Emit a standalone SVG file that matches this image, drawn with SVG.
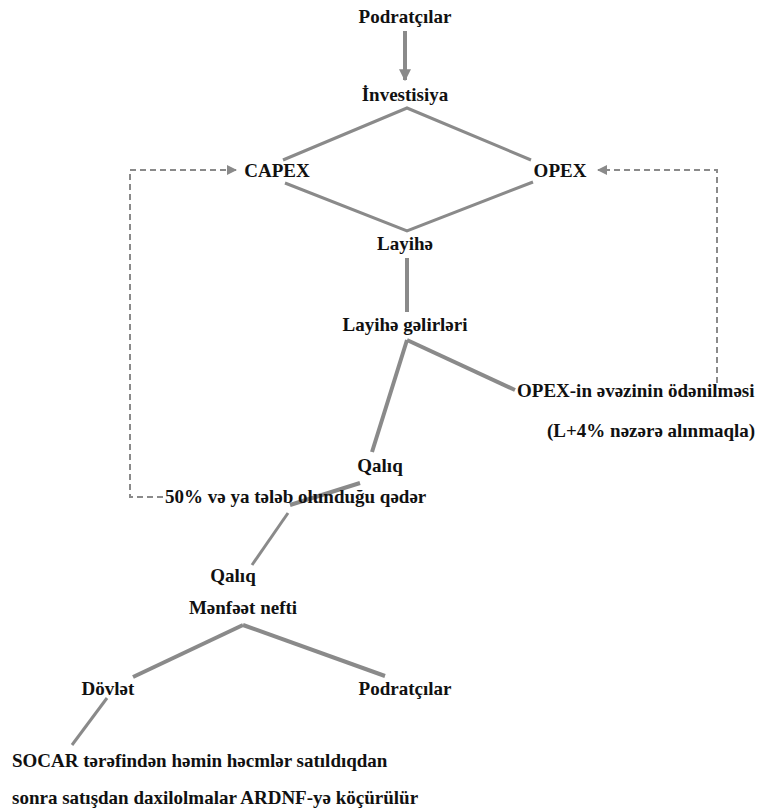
<svg xmlns="http://www.w3.org/2000/svg" width="764" height="812" viewBox="0 0 764 812">
<style>
text{font-family:"Liberation Serif","DejaVu Serif Condensed","DejaVu Serif","Times New Roman",serif;font-weight:bold;font-size:19px;fill:#111}
.m{text-anchor:middle}
.l{stroke:#8a8a8a;stroke-width:3;fill:none}
.t{stroke:#8a8a8a;stroke-width:4;fill:none}
.d{stroke:#8a8a8a;stroke-width:2;fill:none;stroke-dasharray:6 4}
</style>
<defs>
<marker id="ah" viewBox="0 0 10 10" refX="9" refY="5" markerWidth="3" markerHeight="3" orient="auto"><path d="M0,0 L10,5 L0,10 z" fill="#8a8a8a"/></marker>
<marker id="ad" viewBox="0 0 10 10" refX="9" refY="5" markerWidth="5" markerHeight="5" orient="auto"><path d="M0,0 L10,5 L0,10 z" fill="#8a8a8a"/></marker>
</defs>
<g id="connectors">
<line class="t" x1="405" y1="31" x2="405" y2="80" marker-end="url(#ah)"/>
<polyline class="l" points="283,160 407,108 531,160"/>
<polyline class="l" points="285,183 407,231 533,182"/>
<line class="t" x1="407" y1="258" x2="407" y2="312"/>
<line class="t" x1="407" y1="340" x2="372" y2="452"/>
<line class="t" x1="407" y1="340" x2="515" y2="390"/>
<line class="t" x1="360" y1="483" x2="290" y2="505"/>
<line class="l" x1="288" y1="513" x2="252" y2="565"/>
<line class="t" x1="133" y1="677" x2="243" y2="625"/>
<line class="t" x1="243" y1="625" x2="385" y2="676"/>
<line class="l" x1="107" y1="698" x2="72" y2="745"/>
<polyline class="d" points="163,497 130,497 130,170 236,170" marker-end="url(#ad)"/>
<polyline class="d" points="717,383 717,170 598,170" marker-end="url(#ad)"/>
</g>
<g id="n1"><text class="m" x="405" y="23">Podratçılar</text></g>
<g id="n2"><text class="m" x="405" y="101">İnvestisiya</text></g>
<g id="n3"><text class="m" x="277" y="177">CAPEX</text></g>
<g id="n4"><text class="m" x="560" y="177">OPEX</text></g>
<g id="n5"><text class="m" x="405" y="250">Layihə</text></g>
<g id="n6"><text class="m" x="405" y="331">Layihə gəlirləri</text></g>
<g id="n7"><text x="517" y="397">OPEX-in əvəzinin ödənilməsi</text><text x="547" y="437">(L+4% nəzərə alınmaqla)</text></g>
<g id="n8"><text class="m" x="380" y="472">Qalıq</text></g>
<g id="n9"><text x="165" y="503">50% və ya tələb olunduğu qədər</text></g>
<g id="n10"><text class="m" x="233" y="582">Qalıq</text></g>
<g id="n11"><text class="m" x="243" y="614">Mənfəət nefti</text></g>
<g id="n12"><text class="m" x="108" y="695">Dövlət</text></g>
<g id="n13"><text class="m" x="405" y="695">Podratçılar</text></g>
<g id="n14"><text x="12" y="767">SOCAR tərəfindən həmin həcmlər satıldıqdan</text><text x="12" y="804">sonra satışdan daxilolmalar ARDNF-yə köçürülür</text></g>
</svg>
